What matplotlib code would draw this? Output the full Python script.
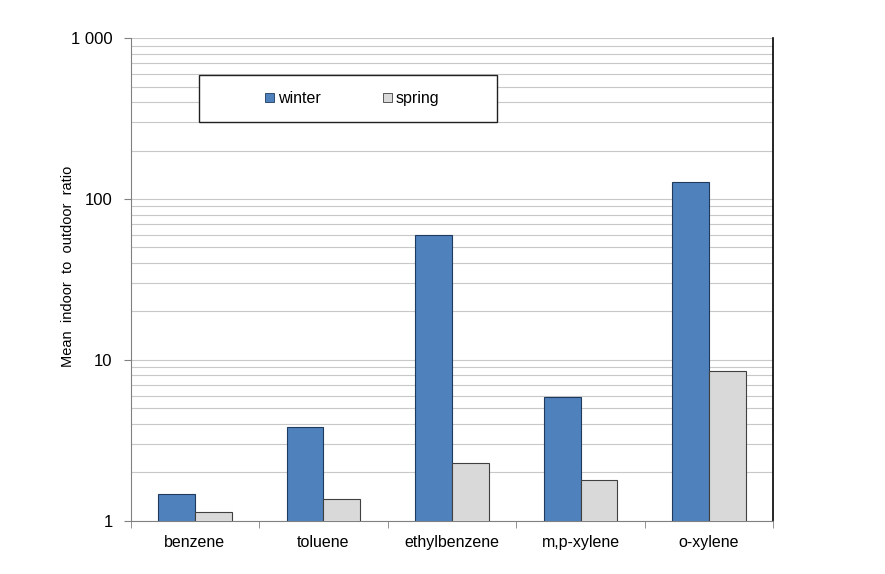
import matplotlib
matplotlib.use('Agg')
import matplotlib.pyplot as plt
from matplotlib.patches import Rectangle
from matplotlib.ticker import FixedLocator, NullFormatter
import numpy as np

plt.rcParams['font.family'] = ['Liberation Sans', 'DejaVu Sans']

# Data
compounds = ['benzene', 'toluene', 'ethylbenzene', 'm,p-xylene', 'o-xylene']
winter = [1.46, 3.8, 60.0, 5.85, 127.0]
spring = [1.13, 1.36, 2.3, 1.78, 8.5]
y_ticks = [1, 10, 100, 1000]
y_tick_labels = ['1', '10', '100', '1 000']

fig = plt.figure(figsize=(8.85, 5.74), dpi=100)
ax = fig.add_axes([0.1477, 0.0929, 0.7261, 0.8404])

x = np.arange(len(compounds))
w = 0.287
ax.bar(x - w / 2, winter, w, bottom=0, color='#4F81BD', edgecolor='#1F3A5F',
       linewidth=0.8, label='winter', zorder=3)
ax.bar(x + w / 2, spring, w, bottom=0, color='#D9D9D9', edgecolor='#404040',
       linewidth=0.8, label='spring', zorder=3)

ax.set_yscale('log')
ax.set_ylim(1, 1000)
ax.set_xlim(-0.5, len(compounds) - 0.5)

# y ticks and grid
ax.set_yticks(y_ticks)
ax.set_yticklabels(y_tick_labels, fontsize=12)
minor = [m * 10 ** d for d in range(3) for m in range(2, 10)]
ax.yaxis.set_minor_locator(FixedLocator(minor))
ax.yaxis.set_minor_formatter(NullFormatter())
ax.grid(True, which='both', axis='y', color='#C8C8C8', linewidth=0.8, zorder=0)
ax.tick_params(axis='y', which='major', length=5, color='#808080', pad=8)
ax.tick_params(axis='y', which='minor', length=0)

# x ticks: labels at centers, tick marks between categories
ax.set_xticks(x)
ax.set_xticklabels(compounds, fontsize=11.5)
ax.tick_params(axis='x', which='major', length=0, pad=10)
ax.set_xticks(np.arange(-0.5, len(compounds) + 0.5, 1), minor=True)
ax.tick_params(axis='x', which='minor', length=5, color='#808080')

for side in ['left', 'bottom']:
    ax.spines[side].set_color('#808080')
ax.spines['top'].set_visible(False)
ax.spines['right'].set_color('black')
ax.spines['right'].set_linewidth(1.2)

ax.set_ylabel('Mean  indoor  to  outdoor  ratio', fontsize=10.5)
ax.yaxis.set_label_coords(-0.0865, 0.528)

# legend box drawn as its own frame, entries centred inside
frame = Rectangle((0.1067, 0.826), 0.4638, 0.098, transform=ax.transAxes,
                  facecolor='white', edgecolor='#202020', linewidth=1.0,
                  zorder=4)
ax.add_patch(frame)
leg = ax.legend(loc='center', bbox_to_anchor=(0.1067 + 0.4638 / 2 + 0.006, 0.875),
                ncol=2, frameon=False, fontsize=11.5, handlelength=0.55,
                handleheight=0.55, handletextpad=0.25, columnspacing=3.9,
                borderaxespad=0)
for h in leg.legend_handles:
    h.set_linewidth(0.6)
leg.set_zorder(5)

fig.savefig('out.png', dpi=100)
